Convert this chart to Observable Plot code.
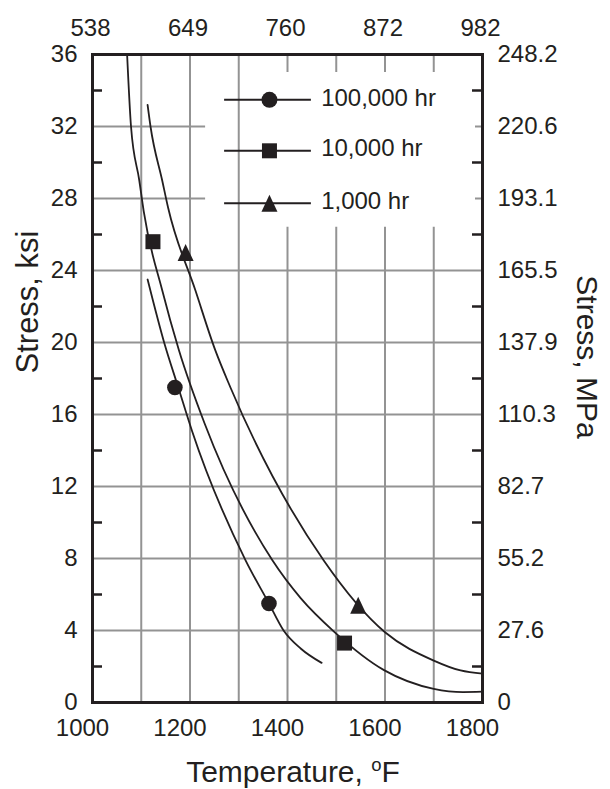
<!DOCTYPE html>
<html><head><meta charset="utf-8">
<script src="https://cdn.jsdelivr.net/npm/d3@7"></script>
<script src="https://cdn.jsdelivr.net/npm/@observablehq/plot@0.6"></script>
<style>
html,body{margin:0;padding:0;background:#fff;}
#chart svg{display:block;}
</style></head><body><div id="chart"></div>
<script>
// ---- data ----
const series = ["100,000 hr", "10,000 hr", "1,000 hr"];
const curveT_100k = [1113, 1148, 1176, 1204, 1314, 1362, 1392, 1427, 1470];
const curveS_100k = [23.5, 19.9, 17.5, 15.1, 7.9, 5.5, 4.0, 3.0, 2.2];
const curveT_10k = [1071, 1079, 1096, 1105, 1143, 1177, 1230, 1369, 1427, 1497, 1598, 1700, 1760, 1800];
const curveS_10k = [36, 32, 29.0, 27.3, 22.9, 19.6, 15.5, 7.9, 5.8, 3.9, 1.8, 0.76, 0.58, 0.6];
const curveT_1k = [1113, 1119, 1143, 1155, 1211, 1252, 1283, 1474, 1600, 1700, 1755, 1800];
const curveS_1k = [33.2, 32, 29, 27.5, 22.9, 19.56, 17.5, 7.9, 3.9, 2.33, 1.78, 1.6];
const pointT_100k = [1169, 1362];
const pointS_100k = [17.5, 5.5];
const pointT_10k = [1124, 1517];
const pointS_10k = [25.6, 3.3];
const pointT_1k = [1191, 1545];
const pointS_1k = [25.0, 5.4];
const tempTicks = [1000, 1200, 1400, 1600, 1800];
const celsiusLabels = ["538", "649", "760", "872", "982"];
const ksiTicks = [0, 4, 8, 12, 16, 20, 24, 28, 32, 36];
const mpaLabels = ["0", "27.6", "55.2", "82.7", "110.3", "137.9", "165.5", "193.1", "220.6", "248.2"];

// ---- tables ----
const curves = [
  ...curveT_100k.map((t, i) => ({s: series[0], T: t, S: curveS_100k[i]})),
  ...curveT_10k.map((t, i) => ({s: series[1], T: t, S: curveS_10k[i]})),
  ...curveT_1k.map((t, i) => ({s: series[2], T: t, S: curveS_1k[i]}))
];
const pts100k = pointT_100k.map((t, i) => ({T: t, S: pointS_100k[i]}));
const pts10k = pointT_10k.map((t, i) => ({T: t, S: pointS_10k[i]}));
const pts1k = pointT_1k.map((t, i) => ({T: t, S: pointS_1k[i]}));

const INK = "#231f20", GRID = "#939393";
const FONT = "'Liberation Sans', Arial, Helvetica, sans-serif";
const squareSym = {draw(ctx) { ctx.rect(-7.5, -7.5, 15, 15); }};
const triSym = {draw(ctx) { ctx.moveTo(0, -8.5); ctx.lineTo(8, 8.5); ctx.lineTo(-8, 8.5); ctx.closePath(); }};

// legend layout (data units of the chart frame)
const legX1 = 1271, legX2 = 1449, legMark = 1363, legText = 1469;
const legRows = [33.48, 30.65, 27.74];
const legend = series.map((s, i) => ({s, y: legRows[i]}));

const midT = [1100, 1200, 1300];
const cutT = [1400, 1500, 1600, 1700];
const fullS = [4, 8, 12, 16, 20, 24];
const cutS = [28, 32];
const minorS = [2, 6, 10, 14, 18, 22, 26, 30, 34];

const chart = Plot.plot({
  width: 610, height: 789,
  marginLeft: 92, marginRight: 128, marginTop: 54, marginBottom: 87,
  x: {domain: [1000, 1800]},
  y: {domain: [0, 36]},
  style: {fontFamily: FONT, color: INK, background: "#fff"},
  marks: [
    Plot.ruleX(midT, {y1: 0, y2: 36, stroke: GRID, strokeWidth: 2}),
    Plot.ruleX(cutT, {y1: 0, y2: 26.4, stroke: GRID, strokeWidth: 2}),
    Plot.ruleX(cutT, {y1: 35, y2: 36, stroke: GRID, strokeWidth: 2}),
    Plot.ruleY(fullS, {x1: 1000, x2: 1800, stroke: GRID, strokeWidth: 2}),
    Plot.ruleY(cutS, {x1: 1000, x2: 1232, stroke: GRID, strokeWidth: 2}),
    Plot.ruleY(cutS, {x1: 1785.6, x2: 1800, stroke: GRID, strokeWidth: 2}),
    Plot.ruleY(minorS, {x1: 1000, x2: 1020.5, stroke: INK, strokeWidth: 2.5}),
    Plot.ruleY(minorS, {x1: 1779.5, x2: 1800, stroke: INK, strokeWidth: 2.5}),
    Plot.line(curves, {x: "T", y: "S", z: "s", curve: "monotone-x", stroke: INK, strokeWidth: 1.8}),
    Plot.dot(pts100k, {x: "T", y: "S", r: 7.8, fill: INK, stroke: "none"}),
    Plot.dot(pts10k, {x: "T", y: "S", symbol: squareSym, fill: INK, stroke: "none"}),
    Plot.dot(pts1k, {x: "T", y: "S", symbol: triSym, fill: INK, stroke: "none"}),
    // legend
    Plot.ruleY(legend, {y: "y", x1: legX1, x2: legX2, stroke: INK, strokeWidth: 2}),
    Plot.dot([legend[0]], {x: legMark, y: "y", r: 8, fill: INK, stroke: "none"}),
    Plot.dot([legend[1]], {x: legMark, y: "y", symbol: squareSym, fill: INK, stroke: "none"}),
    Plot.dot([legend[2]], {x: legMark, y: "y", symbol: triSym, fill: INK, stroke: "none"}),
    Plot.text(legend, {x: legText, y: "y", text: "s", textAnchor: "start", fontSize: 24, dy: -2, fill: INK}),
    Plot.frame({stroke: INK, strokeWidth: 3}),
    // axes
    Plot.axisX(tempTicks, {anchor: "bottom", tickSize: 0, tickPadding: 16, fontSize: 24, dx: -10, label: null, tickFormat: d => String(d), fill: INK}),
    Plot.axisX(tempTicks, {anchor: "top", tickSize: 0, tickPadding: 19, fontSize: 24, dx: -2, label: null, tickFormat: d => celsiusLabels[tempTicks.indexOf(d)], fill: INK}),
    Plot.axisY(ksiTicks, {anchor: "left", tickSize: 0, tickPadding: 15, fontSize: 24, label: null, tickFormat: d => String(d), fill: INK}),
    Plot.axisY(ksiTicks, {anchor: "right", tickSize: 0, tickPadding: 15, fontSize: 24, label: null, tickFormat: d => mpaLabels[ksiTicks.indexOf(d)], fill: INK})
  ]
});

const svg = d3.select(chart);
svg.append("text")
  .attr("x", 293).attr("y", 781.5)
  .attr("text-anchor", "middle")
  .attr("font-family", FONT).attr("font-size", 30).attr("fill", INK)
  .call(t => {
    t.append("tspan").text("Temperature, ");
    t.append("tspan").attr("font-size", 18.5).attr("dy", -11).text("o");
    t.append("tspan").attr("dy", 11).text("F");
  });
svg.append("text")
  .attr("transform", "translate(38,302) rotate(-90)")
  .attr("text-anchor", "middle")
  .attr("font-family", FONT).attr("font-size", 31).attr("fill", INK)
  .text("Stress, ksi");
svg.append("text")
  .attr("transform", "translate(577,357) rotate(90)")
  .attr("text-anchor", "middle")
  .attr("font-family", FONT).attr("font-size", 30).attr("fill", INK)
  .text("Stress, MPa");

document.getElementById("chart").appendChild(chart);
</script>
</body></html>
